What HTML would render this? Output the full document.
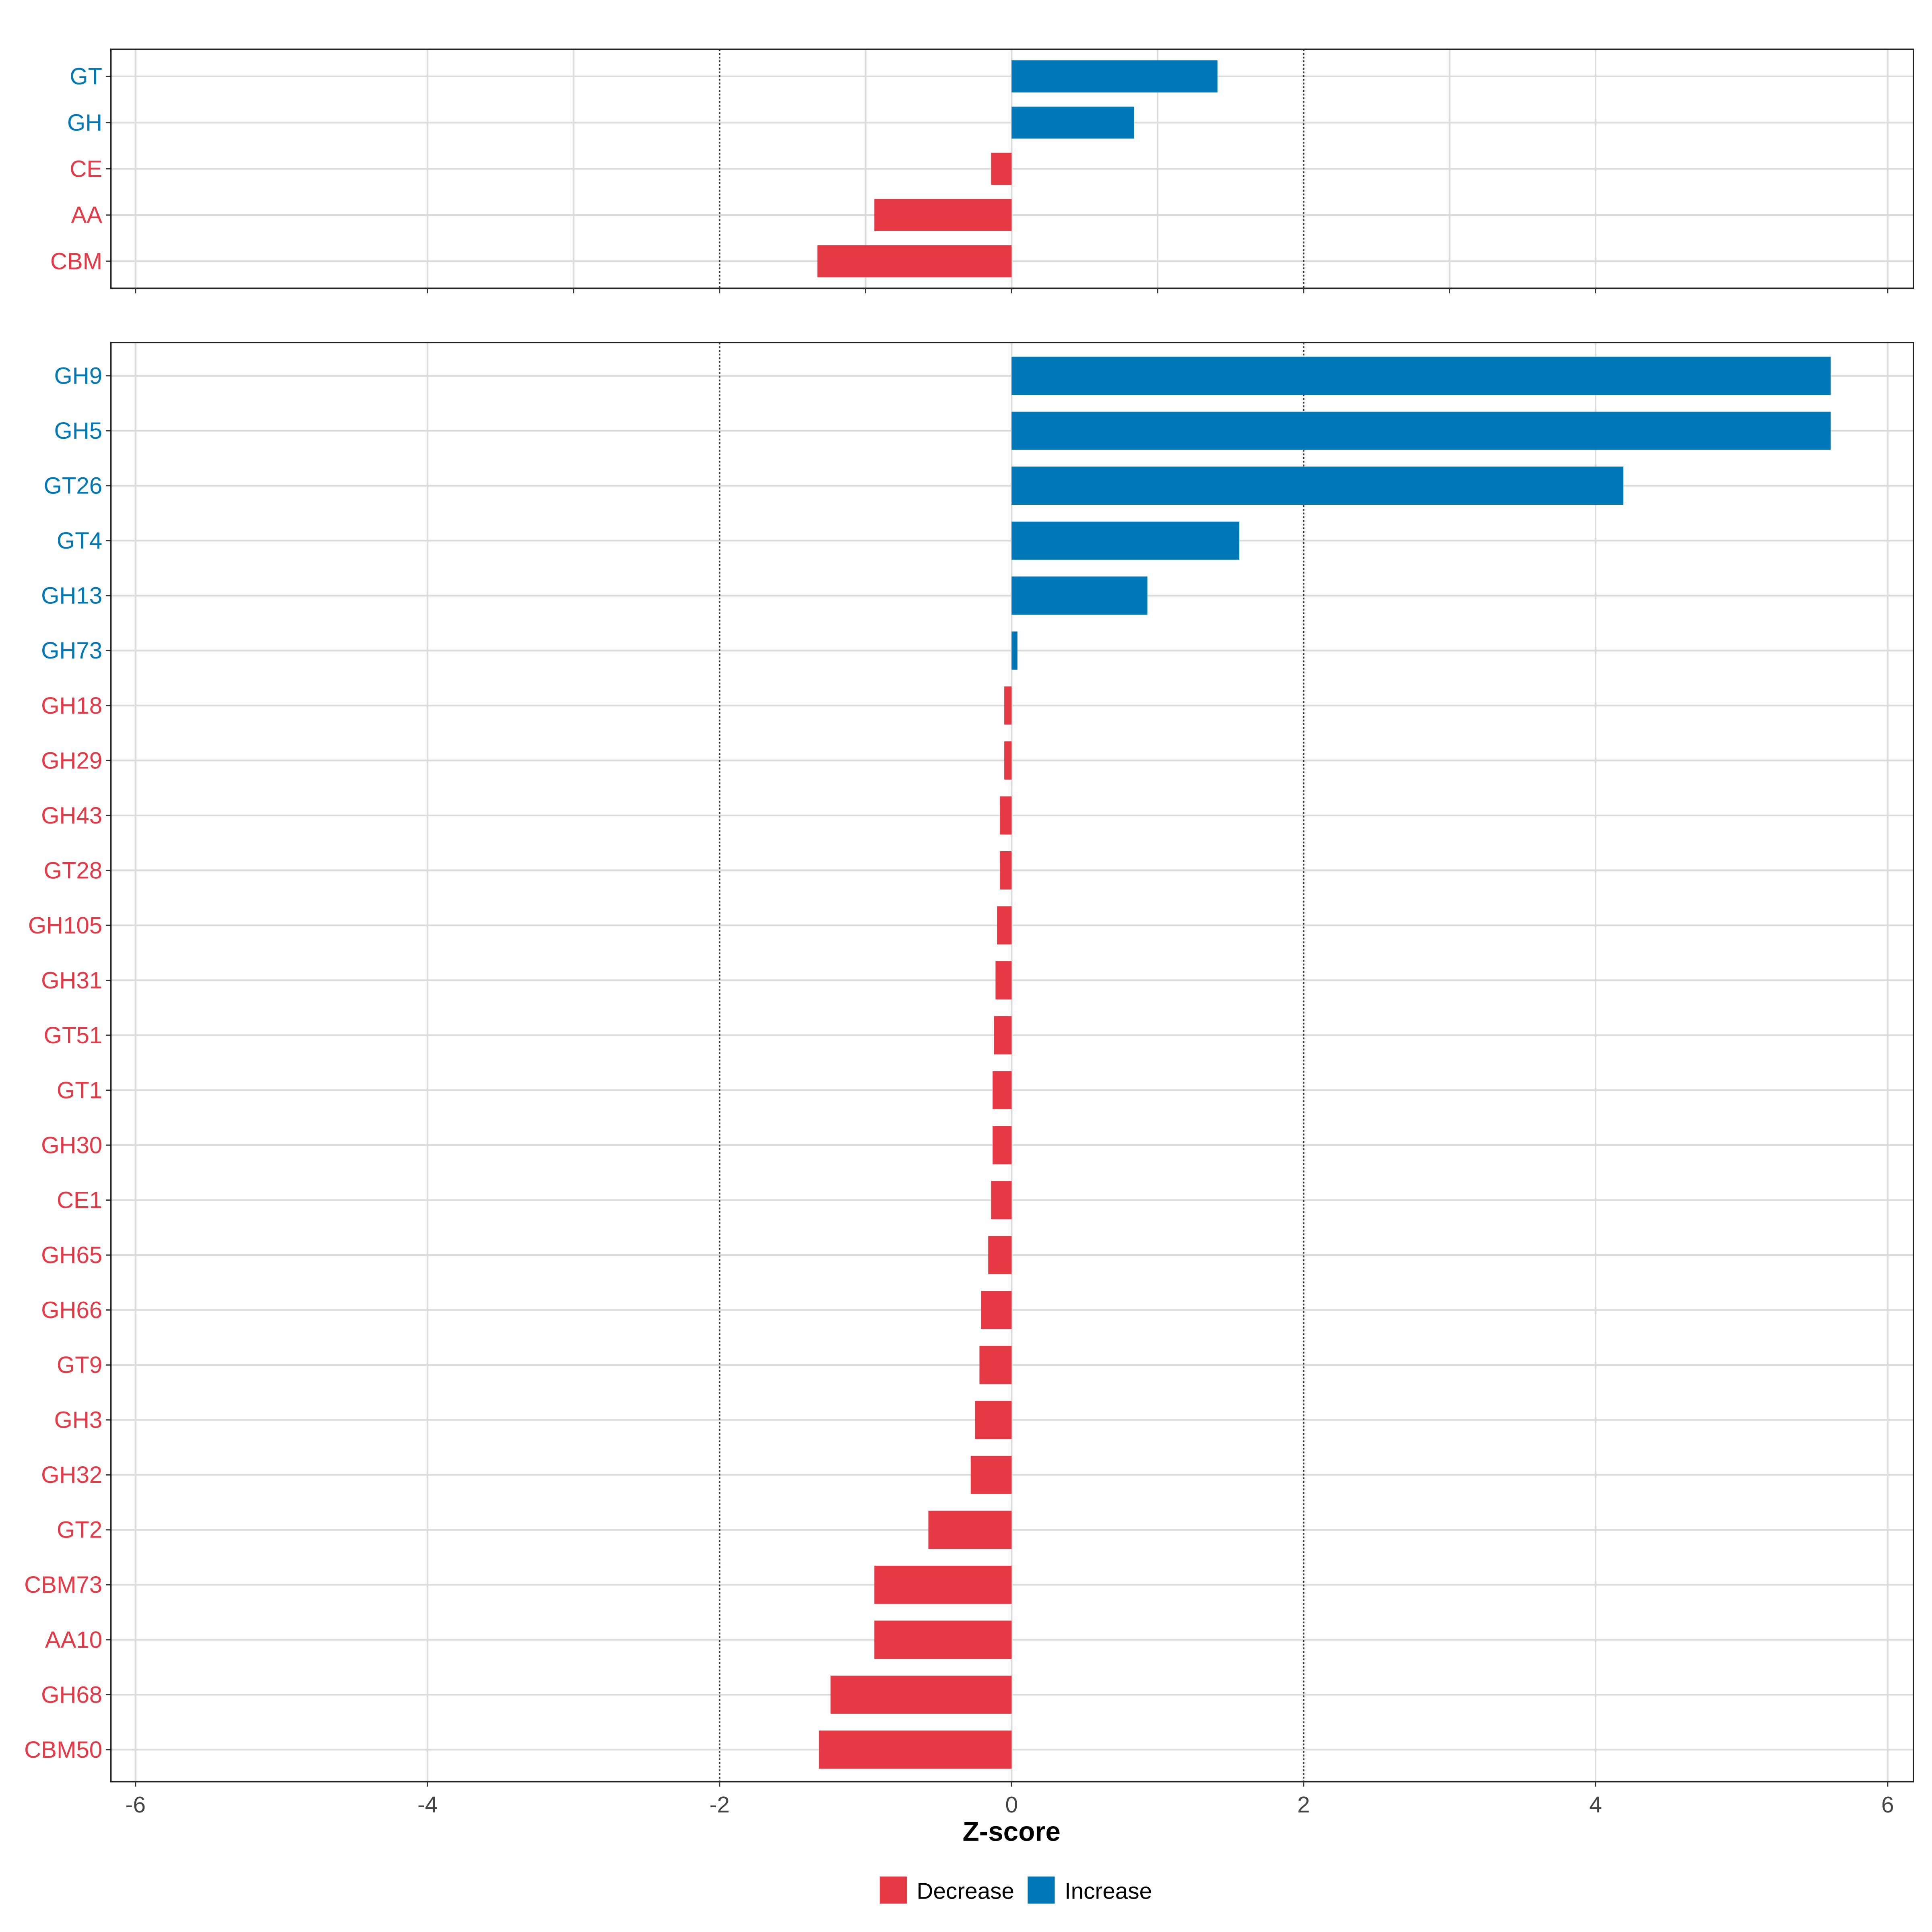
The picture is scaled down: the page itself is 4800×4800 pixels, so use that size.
<!DOCTYPE html>
<html><head><meta charset="utf-8"><style>html,body{margin:0;padding:0;background:#fff}svg{display:block}text{font-family:"Liberation Sans",sans-serif}</style></head>
<body>
<svg id="chart" width="4800" height="4800" viewBox="0 0 1568 1568" xmlns="http://www.w3.org/2000/svg"></svg>
<script>
const topCats=["GT","GH","CE","AA","CBM"];
const topVals=[1.41,0.84,-0.14,-0.94,-1.33];
const botCats=["GH9","GH5","GT26","GT4","GH13","GH73","GH18","GH29","GH43","GT28","GH105","GH31","GT51","GT1","GH30","CE1","GH65","GH66","GT9","GH3","GH32","GT2","CBM73","AA10","GH68","CBM50"];
const botVals=[5.61,5.61,4.19,1.56,0.93,0.04,-0.05,-0.05,-0.08,-0.08,-0.10,-0.11,-0.12,-0.13,-0.13,-0.14,-0.16,-0.21,-0.22,-0.25,-0.28,-0.57,-0.94,-0.94,-1.24,-1.32];
const xTicks=[-6,-4,-2,0,2,4,6];
const topGrid=[-6,-4,-3,-1,0,1,3,4,6];
const botGrid=[-6,-4,0,4,6];
const topTicks=[-6,-4,-3,-2,-1,0,1,2,3,4,6];
const RED="#E63946",BLUE="#0077B6";
const svg=document.getElementById('chart');
const NS="http://www.w3.org/2000/svg";
const X=v=>821+v*118.5;
function el(t,a,p){const e=document.createElementNS(NS,t);for(const k in a)e.setAttribute(k,a[k]);(p||svg).appendChild(e);return e;}
function panel(name,y0,y1,cats,vals,grid,ticks,rowY,bh){
  const g=el('g',{});
  
  
  grid.forEach(v=>{const l=el('line',{x1:X(v),x2:X(v),y1:y0,y2:y1,stroke:'#dcdcdc','stroke-width':1.4},g);
    });
  cats.forEach((c,i)=>{const y=rowY(i);
    const l=el('line',{x1:90,x2:1553,y1:y,y2:y,stroke:'#dcdcdc','stroke-width':1.4},g);
    });
  [-2,2].forEach(v=>{const l=el('line',{x1:X(v),x2:X(v),y1:y0,y2:y1,stroke:'#333','stroke-width':1.2,'stroke-dasharray':'1.5,1.5'},g);
    });
  cats.forEach((c,i)=>{const y=rowY(i),v=vals[i],col=v>=0?BLUE:RED;
    const r=el('rect',{x:Math.min(X(0),X(v)),y:y-bh/2,width:Math.abs(X(v)-X(0)),height:bh,fill:col},g);
    
    const t=el('text',{x:83,y:y+6.5,'text-anchor':'end','font-size':19,fill:col},g);t.textContent=c;
    
    el('line',{x1:86,x2:90,y1:y,y2:y,stroke:'#333','stroke-width':1},g);});
  el('rect',{x:90,y:y0,width:1463,height:y1-y0,fill:'none',stroke:'#222','stroke-width':1.2},g);
  ticks.forEach(v=>el('line',{x1:X(v),x2:X(v),y1:y1,y2:y1+4,stroke:'#333','stroke-width':1},g));
}
panel('top',40,234,topCats,topVals,topGrid,topTicks,i=>62+i*37.5,26);
panel('bottom',278,1446,botCats,botVals,botGrid,xTicks,i=>305+i*44.6,31);
xTicks.forEach(v=>{const t=el('text',{x:X(v),y:1471,'text-anchor':'middle','font-size':18.5,fill:'#444'});t.textContent=v;
  });
const tt=el('text',{x:821,y:1494,'text-anchor':'middle','font-size':22,'font-weight':'bold',fill:'#000'});tt.textContent='Z-score';

[[714,RED,'Decrease',744],[834,BLUE,'Increase',864]].forEach(([x,c,l,tx])=>{
  const g=el('g',{});
  el('rect',{x:x,y:1523,width:22,height:22,fill:c},g);
  const t=el('text',{x:tx,y:1541,'font-size':18.5,fill:'#000'},g);t.textContent=l;});
</script>
</body></html>
